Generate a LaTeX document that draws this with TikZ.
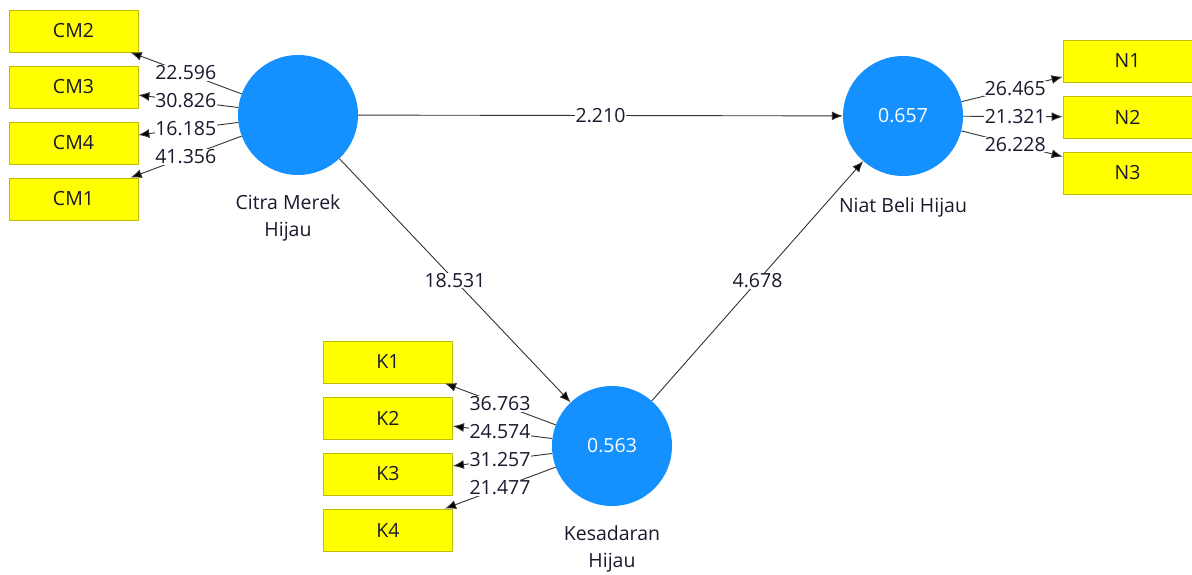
\documentclass[tikz,border=0pt]{standalone}
\usepackage{fontspec}
\setmainfont{Open Sans}
\usetikzlibrary{arrows.meta}
\definecolor{lvblue}{RGB}{20,145,255}
\definecolor{boxyellow}{RGB}{255,255,0}
\definecolor{boxedge}{RGB}{190,190,0}
\definecolor{txtcol}{RGB}{25,25,45}
\newcommand\fsz{\fontsize{19.5}{27}\selectfont}
\begin{document}
\begin{tikzpicture}[x=1pt,y=-1pt,
  every node/.style={font=\fsz},
  lv/.style={circle, fill=lvblue, minimum size=120pt, inner sep=0pt, text=white},
  ind/.style={rectangle, draw=boxedge, line width=0.8pt, fill=boxyellow, minimum width=129pt, minimum height=42pt, inner sep=0pt, text=txtcol},
  lbl/.style={fill=white, inner sep=0.6pt, text=txtcol},
  lvname/.style={text=txtcol, align=center, inner sep=0pt},
  conn/.style={draw=black!80, line width=0.9pt, -{Latex[length=11pt,width=9pt,fill=black]}}]
\useasboundingbox (0,0) rectangle (1192,575);
% latent variables
\node[lv] (cm) at (298,115) {};
\node[lv] (nb) at (903,116) {0.657};
\node[lv] (kh) at (612,446) {0.563};
\node[lvname] (cmn) at (288,218) {Citra Merek\\Hijau};
\node[lvname] (nbn) at (903,207) {Niat Beli Hijau};
\node[lvname] (khn) at (612,549) {Kesadaran\\Hijau};
% indicators
\node[ind] (cm2) at (73.5,31) {CM2};
\node[ind] (cm3) at (73.5,87) {CM3};
\node[ind] (cm4) at (73.5,143) {CM4};
\node[ind] (cm1) at (73.5,199) {CM1};
\node[ind] (n1) at (1127.5,61) {N1};
\node[ind] (n2) at (1127.5,117) {N2};
\node[ind] (n3) at (1127.5,173) {N3};
\node[ind] (k1) at (388,362) {K1};
\node[ind] (k2) at (388,418) {K2};
\node[ind] (k3) at (388,474) {K3};
\node[ind] (k4) at (388,530) {K4};
% connectors
\draw[conn] (cm) -- (cm2);
\draw[conn] (cm) -- (cm3);
\draw[conn] (cm) -- (cm4);
\draw[conn] (cm) -- (cm1);
\draw[conn] (nb) -- (n1);
\draw[conn] (nb) -- (n2);
\draw[conn] (nb) -- (n3);
\draw[conn] (kh) -- (k1);
\draw[conn] (kh) -- (k2);
\draw[conn] (kh) -- (k3);
\draw[conn] (kh) -- (k4);
\draw[conn] (cm) -- (nb);
\draw[conn] (cm) -- (kh);
\draw[conn] (kh) -- (nb);
% labels
\path (cm.center) -- (cm2.center) node[midway,lbl] {22.596};
\path (cm.center) -- (cm3.center) node[midway,lbl] {30.826};
\path (cm.center) -- (cm4.center) node[midway,lbl] {16.185};
\path (cm.center) -- (cm1.center) node[midway,lbl] {41.356};
\path (nb.center) -- (n1.center) node[midway,lbl] {26.465};
\path (nb.center) -- (n2.center) node[midway,lbl] {21.321};
\path (nb.center) -- (n3.center) node[midway,lbl] {26.228};
\path (kh.center) -- (k1.center) node[midway,lbl] {36.763};
\path (kh.center) -- (k2.center) node[midway,lbl] {24.574};
\path (kh.center) -- (k3.center) node[midway,lbl] {31.257};
\path (kh.center) -- (k4.center) node[midway,lbl] {21.477};
\path (cm.center) -- (nb.center) node[midway,lbl] {2.210};
\path (cm.center) -- (kh.center) node[midway,lbl] {18.531};
\path (kh.center) -- (nb.center) node[midway,lbl] {4.678};
\end{tikzpicture}
\end{document}
